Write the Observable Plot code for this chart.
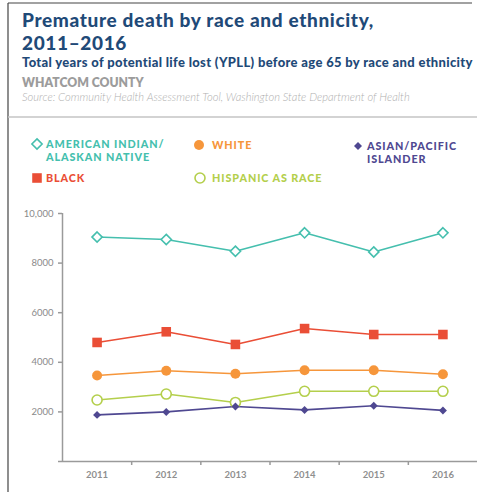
<!DOCTYPE html>
<html>
<head>
<meta charset="utf-8">
<script src="https://cdn.jsdelivr.net/npm/d3@7"></script>
<script src="https://cdn.jsdelivr.net/npm/@observablehq/plot@0.6"></script>
<style>
  html, body { margin: 0; padding: 0; background: #fff; }
  #wrap { position: relative; width: 478px; height: 492px; overflow: hidden; font-family: Lato, "Open Sans", sans-serif; }
  #deco { position: absolute; left: 0; top: 0; }
  #plot { position: absolute; left: 0; top: 200px; }
  .t { position: absolute; white-space: nowrap; font-family: Lato, sans-serif; }
</style>
</head>
<body>
<div id="wrap">
  <svg id="deco" width="478" height="492"></svg>
  <div id="plot"></div>
</div>
<script>
// ---- data ----
const years = [2011, 2012, 2013, 2014, 2015, 2016];
const aian = [9050, 8950, 8480, 9220, 8450, 9220];
const black = [4800, 5230, 4720, 5360, 5120, 5120];
const white = [3470, 3660, 3540, 3680, 3680, 3520];
const hispanic = [2480, 2720, 2380, 2830, 2830, 2830];
const asian = [1880, 2000, 2220, 2080, 2250, 2060];
const seriesNames = ["American Indian/Alaskan Native", "Black", "White", "Hispanic as race", "Asian/Pacific Islander"];
const legendLabels = [["AMERICAN INDIAN/", "ALASKAN NATIVE"], ["BLACK"], ["WHITE"], ["HISPANIC AS RACE"], ["ASIAN/PACIFIC", "ISLANDER"]];
const yTicks = [0, 2000, 4000, 6000, 8000, 10000];

const titleLines = ["Premature death by race and ethnicity,", "2011\u20132016"];
const subtitle = "Total years of potential life lost (YPLL) before age 65 by race and ethnicity";
const county = "WHATCOM COUNTY";
const source = "Source: Community Health Assessment Tool, Washington State Department of Health";

// ---- styles ----
const valuesBySeries = [aian, black, white, hispanic, asian];
const styles = [
  {color: "#45bfae", symbol: "diamond2", r: 4.6, hollow: true},
  {color: "#ea4e36", symbol: "square", r: 5.4, hollow: false},
  {color: "#f6963b", symbol: "circle", r: 5, hollow: false},
  {color: "#b4cf4c", symbol: "circle", r: 5, hollow: true},
  {color: "#4f4891", symbol: "diamond2", r: 3.6, hollow: false}
];
const legendPos = [
  {sx: 37, sy: 144, tx: 46, ty: 148},
  {sx: 37, sy: 178, tx: 46, ty: 182},
  {sx: 199, sy: 145, tx: 212, ty: 149},
  {sx: 200, sy: 178, tx: 212, ty: 182},
  {sx: 358, sy: 146, tx: 367, ty: 150}
];
const titleColor = "#1f4a78";

// ---- header / legend decoration ----
const wrap = document.getElementById("wrap");
const deco = d3.select("#deco");
deco.append("line").attr("x1", 8).attr("x2", 8).attr("y1", 3).attr("y2", 492).attr("stroke", "#444").attr("stroke-width", 1.2);
deco.append("line").attr("x1", 8).attr("x2", 472).attr("y1", 3).attr("y2", 3).attr("stroke", "#444").attr("stroke-width", 1.2);
deco.append("line").attr("x1", 8).attr("x2", 477).attr("y1", 117).attr("y2", 117).attr("stroke", "#c4c4c4").attr("stroke-width", 1.5);

// place an HTML text block so that its first baseline falls at y
function T(lines, x, baseline, size, weight, color, lineH, spacing, style) {
  const div = document.createElement("div");
  div.className = "t";
  const lh = lineH;
  const halfLead = (lh - size * 1.2) / 2;
  div.style.left = x + "px";
  div.style.top = (baseline - (halfLead + size * 0.987)) + "px";
  div.style.fontSize = size + "px";
  div.style.fontWeight = weight;
  div.style.color = color;
  div.style.lineHeight = lh + "px";
  div.style.letterSpacing = (spacing || 0) + "px";
  div.style.fontStyle = style || "normal";
  div.innerHTML = lines.map(l => l.replace(/&/g, "&amp;")).join("<br>");
  wrap.appendChild(div);
}
T(titleLines, 22, 26.5, 19, 900, titleColor, 23, 0.65);
T([subtitle], 22, 67, 13, 900, titleColor, 16, 0.33);
T([county], 22, 87, 12.2, 800, "#9c9c9c", 15, 0);
T([source], 22, 101, 11.2, 300, "#b0b0b0", 13, 0, "italic");

styles.forEach((s, i) => {
  const p = legendPos[i];
  const sym = d3.symbol().type({circle: d3.symbolCircle, square: d3.symbolSquare, diamond2: d3.symbolDiamond2}[s.symbol]).size(Math.PI * s.r * s.r);
  deco.append("path").attr("d", sym()).attr("transform", `translate(${p.sx},${p.sy})`)
    .attr("fill", s.hollow ? "#fff" : s.color).attr("stroke", s.color).attr("stroke-width", s.hollow ? 1.6 : 0);
  T(legendLabels[i], p.tx, p.ty, 10.8, 900, s.color, 13.1, 0.9);
});

// ---- chart ----
const data = [];
valuesBySeries.forEach((vals, i) => years.forEach((yr, j) => data.push({series: seriesNames[i], year: yr, value: vals[j]})));
const xDomain = [years[0] - 0.5, years[years.length - 1] + 0.5];
const boundaries = years.slice(0, -1).map(y => y + 0.5);
const axisColor = "#9a9a9a";

const marks = [
  Plot.ruleY([yTicks[0]], {stroke: axisColor, strokeWidth: 1.5}),
  Plot.ruleX([xDomain[0]], {y1: yTicks[0], y2: yTicks[yTicks.length - 1], stroke: axisColor, strokeWidth: 1.5}),
  Plot.axisY({ticks: yTicks, tickSize: 4, tickPadding: 5, stroke: axisColor, strokeWidth: 1.5, fill: "#8a8a8a", fontSize: 9.5,
    tickFormat: d => d === 0 ? "" : (d >= 10000 ? d3.format(",")(d) : String(d)), label: null}),
  Plot.axisX({ticks: boundaries, tickSize: 4, stroke: axisColor, strokeWidth: 1.5, tickFormat: () => "", label: null}),
  Plot.axisX({ticks: years, tickSize: 0, tickPadding: 10, fill: "#8f8f8f", fontSize: 9.5, fontWeight: 700, tickFormat: d => String(d), label: null})
];
seriesNames.forEach((name, i) => {
  const s = styles[i];
  const sub = data.filter(d => d.series === name);
  marks.push(Plot.line(sub, {x: "year", y: "value", stroke: s.color, strokeWidth: 1.6}));
});
seriesNames.forEach((name, i) => {
  const s = styles[i];
  const sub = data.filter(d => d.series === name);
  marks.push(Plot.dot(sub, {x: "year", y: "value", symbol: () => s.symbol, r: s.r,
    fill: s.hollow ? "#fff" : s.color, stroke: s.color, strokeWidth: s.hollow ? 1.6 : 0}));
});

const chart = Plot.plot({
  width: 478,
  height: 292,
  marginLeft: 62,
  marginRight: 1,
  marginTop: 13,
  marginBottom: 31,
  style: {fontFamily: "Lato", background: "transparent", overflow: "visible"},
  x: {type: "linear", domain: xDomain, axis: null},
  y: {domain: [yTicks[0], yTicks[yTicks.length - 1]], axis: null},
  symbol: {type: "identity"},
  marks
});
document.getElementById("plot").appendChild(chart);
</script>
</body>
</html>
